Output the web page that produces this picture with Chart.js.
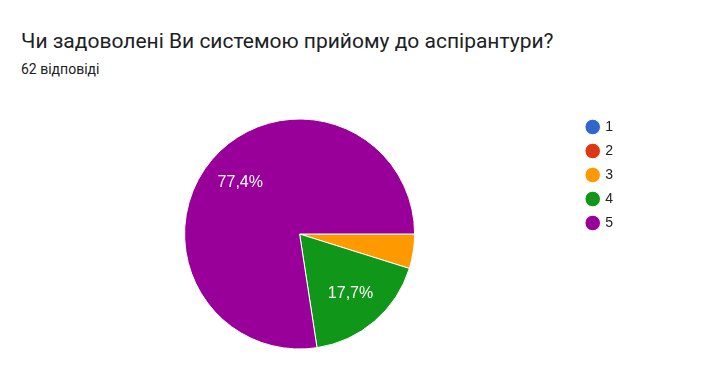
<!DOCTYPE html>
<html>
<head>
<meta charset="utf-8">
<script src="https://cdn.jsdelivr.net/npm/chart.js@4"></script>
<style>
html, body { margin: 0; padding: 0; background: #fff; }
body { width: 713px; height: 372px; position: relative; overflow: hidden; font-family: Roboto, "Noto Sans", sans-serif; }
#title { position: absolute; left: 21px; top: 29px; font-size: 21px; color: #202124; white-space: nowrap; }
#sub { position: absolute; left: 21px; top: 61px; font-size: 14px; color: #202124; white-space: nowrap; }
#wrap { position: absolute; left: 0; top: 0; width: 713px; height: 372px; }
</style>
</head>
<body>
<div id="title">Чи задоволені Ви системою прийому до аспірантури?</div>
<div id="sub">62 відповіді</div>
<div id="wrap"><canvas id="chart1"></canvas></div>
<script>
//answers
var xValues = ["1", "2", "3", "4", "5"];
var yValues = [0, 0, 3, 11, 48];
var barColors = ["#3366cc", "#dc3912", "#ff9900", "#109618", "#990099"];

// percent labels inside the big slices
var sliceLabels = {
    id: "sliceLabels",
    afterDatasetsDraw: function (chart) {
        var ctx = chart.ctx;
        var meta = chart.getDatasetMeta(0);
        var total = yValues.reduce(function (a, b) { return a + b; }, 0);
        ctx.save();
        ctx.fillStyle = "#fff";
        ctx.font = "16px 'Liberation Sans', Arial, sans-serif";
        ctx.textAlign = "center";
        ctx.textBaseline = "middle";
        meta.data.forEach(function (arc, i) {
            var pct = yValues[i] / total * 100;
            if (pct < 5) return;
            var mid = (arc.startAngle + arc.endAngle) / 2;
            var r = arc.outerRadius * 0.68;
            ctx.fillText(pct.toFixed(1).replace(".", ",") + "%", arc.x + Math.cos(mid) * r, arc.y + Math.sin(mid) * r);
        });
        ctx.restore();
    }
};

new Chart("chart1", {
    type: "pie",
    data: {
        labels: xValues,
        datasets: [
            {
                backgroundColor: barColors,
                borderColor: "#fff",
                borderWidth: 1,
                radius: 115,
                data: yValues
            }
        ]
    },
    options: {
        responsive: true,
        maintainAspectRatio: false,
        animation: false,
        rotation: 90,
        layout: {
            padding: { top: 110, bottom: 14, left: 22, right: 90 }
        },
        plugins: {
            legend: {
                position: "right",
                align: "start",
                labels: {
                    usePointStyle: true,
                    pointStyle: "circle",
                    boxWidth: 11,
                    boxHeight: 11,
                    padding: 10,
                    color: "#222",
                    font: { size: 14, family: "'Liberation Sans', Arial, sans-serif" }
                }
            },
            tooltip: { enabled: false }
        }
    },
    plugins: [sliceLabels]
});
</script>
</body>
</html>
